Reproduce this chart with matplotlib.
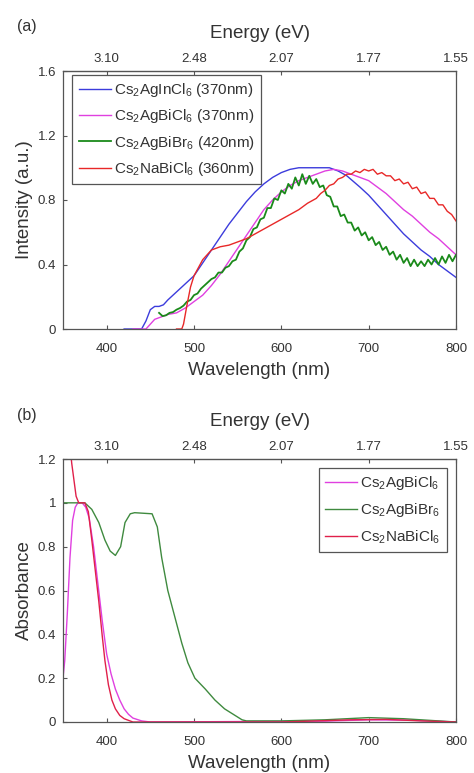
import matplotlib
matplotlib.use('Agg')
import matplotlib.pyplot as plt
import numpy as np

plt.rcParams['font.family'] = ['Liberation Sans', 'DejaVu Sans']
plt.rcParams['mathtext.fontset'] = 'custom'
plt.rcParams['mathtext.rm'] = 'Liberation Sans'
plt.rcParams['mathtext.it'] = 'Liberation Sans'
plt.rcParams['mathtext.default'] = 'regular'

# ---------------- (a) photoluminescence ----------------
wl_ticks = [400, 500, 600, 700, 800]
energy_labels = ['3.10', '2.48', '2.07', '1.77', '1.55']

pl_labels = ['Cs$_2$AgInCl$_6$ (370nm)', 'Cs$_2$AgBiCl$_6$ (370nm)',
             'Cs$_2$AgBiBr$_6$ (420nm)', 'Cs$_2$NaBiCl$_6$ (360nm)']

agin_wl = [420, 440, 445, 450, 455, 460, 465, 470, 480, 490, 500, 510, 520, 530, 540,
           550, 560, 570, 580, 590, 600, 610, 620, 640, 655, 665, 675, 690, 700, 710,
           720, 730, 740, 750, 760, 770, 780, 790, 800]
agin_pl = [0, 0, 0.05, 0.12, 0.14, 0.14, 0.15, 0.18, 0.23, 0.28, 0.33, 0.41, 0.49, 0.57, 0.65,
           0.72, 0.79, 0.85, 0.90, 0.94, 0.97, 0.99, 1.0, 1.0, 1.0, 0.98, 0.95, 0.88, 0.83, 0.77,
           0.71, 0.65, 0.59, 0.54, 0.49, 0.45, 0.40, 0.36, 0.32]

agbicl_wl = [430, 445, 450, 455, 460, 465, 470, 480, 490, 500, 510, 520, 530, 540, 550,
             560, 570, 580, 590, 600, 610, 620, 630, 640, 650, 660, 670, 680, 690, 700,
             710, 720, 730, 740, 750, 760, 770, 780, 790, 800]
agbicl_pl = [0, 0, 0.03, 0.06, 0.07, 0.08, 0.09, 0.10, 0.13, 0.17, 0.21, 0.27, 0.34, 0.42, 0.50,
             0.58, 0.66, 0.74, 0.80, 0.85, 0.89, 0.92, 0.94, 0.96, 0.98, 0.99, 0.98, 0.96, 0.94, 0.92,
             0.88, 0.84, 0.79, 0.74, 0.70, 0.65, 0.60, 0.56, 0.51, 0.46]

agbibr_wl = [460, 464, 468, 472, 476, 480, 484, 488, 492, 496, 500, 504, 508, 512, 516, 520,
             524, 528, 532, 536, 540, 544, 548, 552, 556, 560, 564, 568, 572, 576, 580, 584,
             588, 592, 596, 600, 604, 608, 612, 616, 620, 624, 628, 632, 636, 640, 644, 648,
             652, 656, 660, 664, 668, 672, 676, 680, 684, 688, 692, 696, 700, 704, 708, 712,
             716, 720, 724, 728, 732, 736, 740, 744, 748, 752, 756, 760, 764, 768, 772, 776,
             780, 784, 788, 792, 796, 800]
agbibr_pl = [0.10, 0.08, 0.085, 0.10, 0.105, 0.12, 0.13, 0.145, 0.17, 0.18, 0.21, 0.22, 0.25, 0.27, 0.29, 0.31,
             0.32, 0.35, 0.35, 0.38, 0.39, 0.42, 0.43, 0.48, 0.50, 0.55, 0.57, 0.62, 0.63, 0.68, 0.69, 0.75,
             0.75, 0.81, 0.80, 0.86, 0.84, 0.90, 0.87, 0.94, 0.89, 0.96, 0.90, 0.95, 0.90, 0.93, 0.88, 0.89,
             0.83, 0.82, 0.76, 0.76, 0.70, 0.71, 0.66, 0.66, 0.61, 0.63, 0.58, 0.60, 0.55, 0.57, 0.52, 0.54,
             0.49, 0.51, 0.46, 0.48, 0.43, 0.46, 0.41, 0.44, 0.39, 0.43, 0.39, 0.42, 0.39, 0.43, 0.40, 0.44,
             0.40, 0.45, 0.41, 0.46, 0.42, 0.46]

nabicl_wl = [480, 486, 488, 492, 496, 500, 505, 510, 515, 520, 525, 530, 540, 550, 560, 570,
             580, 590, 600, 610, 620, 630, 640, 645, 650, 655, 660, 665, 670, 675, 680, 685,
             690, 695, 700, 705, 710, 715, 720, 725, 730, 735, 740, 745, 750, 755, 760, 765,
             770, 775, 780, 785, 790, 795, 800]
nabicl_pl = [0, 0, 0.03, 0.15, 0.26, 0.33, 0.38, 0.43, 0.46, 0.49, 0.50, 0.51, 0.52, 0.54, 0.56, 0.59,
             0.62, 0.65, 0.68, 0.71, 0.74, 0.78, 0.81, 0.84, 0.86, 0.89, 0.90, 0.93, 0.94, 0.96, 0.96, 0.98,
             0.97, 0.99, 0.98, 0.99, 0.96, 0.97, 0.95, 0.95, 0.92, 0.93, 0.90, 0.91, 0.87, 0.88, 0.84, 0.85,
             0.81, 0.81, 0.77, 0.77, 0.73, 0.71, 0.67]

# ---------------- (b) absorbance ----------------
abs_labels = ['Cs$_2$AgBiCl$_6$', 'Cs$_2$AgBiBr$_6$', 'Cs$_2$NaBiCl$_6$']

abs_agbicl_wl = [350, 352, 355, 358, 361, 364, 367, 372, 376, 380, 385, 390, 395, 400, 405,
                 410, 415, 420, 425, 430, 440, 450, 650, 700, 750, 800]
abs_agbicl = [0.20, 0.28, 0.50, 0.75, 0.92, 0.98, 1.0, 1.0, 0.98, 0.93, 0.80, 0.63, 0.46, 0.31, 0.22,
              0.15, 0.10, 0.06, 0.035, 0.018, 0.005, 0, 0.004, 0.01, 0.008, 0]

abs_agbibr_wl = [350, 375, 383, 391, 398, 404, 410, 416, 421, 427, 432, 452, 458, 463, 470,
                 478, 486, 493, 501, 513, 524, 535, 547, 555, 560, 600, 650, 700, 740, 780, 800]
abs_agbibr = [1.0, 1.0, 0.97, 0.91, 0.83, 0.78, 0.76, 0.80, 0.91, 0.95, 0.955, 0.95, 0.89, 0.75, 0.60,
              0.48, 0.36, 0.27, 0.20, 0.15, 0.10, 0.06, 0.03, 0.01, 0.005, 0.005, 0.01, 0.02, 0.015, 0.005, 0]

abs_nabicl_wl = [350, 355, 360, 365, 368, 375, 379, 383, 387, 391, 395, 398, 402, 406, 410,
                 415, 420, 430, 600, 680, 720, 760, 800]
abs_nabicl = [1.6, 1.38, 1.18, 1.03, 1.0, 1.0, 0.96, 0.83, 0.69, 0.55, 0.39, 0.28, 0.17, 0.10, 0.06,
              0.03, 0.015, 0, 0, 0.01, 0.012, 0.005, 0]

col_blue = '#3c3cdc'
col_mag = '#e040e0'
col_green = '#1a8a1a'
col_red = '#e82828'
frame = '#555555'
txt = '#333333'


def style_axes(ax, ylim, yticks, yticklabels, ylabel):
    ax.set_xlim(350, 800)
    ax.set_ylim(*ylim)
    ax.set_xticks(wl_ticks)
    ax.set_yticks(yticks)
    ax.set_yticklabels(yticklabels)
    ax.tick_params(direction='in', length=3, width=0.8, labelsize=9.5,
                   colors=frame, labelcolor=txt, pad=5)
    ax.tick_params(axis='x', pad=10)
    for s in ax.spines.values():
        s.set_color(frame)
        s.set_linewidth(0.9)
    ax.set_xlabel('Wavelength (nm)', fontsize=13.5, color=txt, labelpad=5)
    ax.set_ylabel(ylabel, fontsize=13.5, color=txt, labelpad=3)

    top = ax.secondary_xaxis('top')
    top.set_xticks(wl_ticks)
    top.set_xticklabels(energy_labels)
    top.tick_params(direction='in', length=3, width=0.8, labelsize=9.5,
                    colors=frame, labelcolor=txt, pad=4)
    top.set_xlabel('Energy (eV)', fontsize=13.5, color=txt, labelpad=11)


def style_legend(leg):
    leg.get_frame().set_linewidth(0.9)
    for t in leg.get_texts():
        t.set_color(txt)


fig = plt.figure(figsize=(4.74, 7.73), dpi=100)

ax1 = fig.add_axes([63 / 474, 1 - 329 / 773, 393 / 474, 258 / 773])
ax1.plot(agin_wl, agin_pl, color=col_blue, lw=1.0, label=pl_labels[0])
ax1.plot(agbicl_wl, agbicl_pl, color=col_mag, lw=1.0, label=pl_labels[1])
ax1.plot(agbibr_wl, agbibr_pl, color=col_green, lw=1.3, label=pl_labels[2])
ax1.plot(nabicl_wl, nabicl_pl, color=col_red, lw=1.0, label=pl_labels[3])
style_axes(ax1, (0, 1.6), [0, 0.4, 0.8, 1.2, 1.6], ['0', '0.4', '0.8', '1.2', '1.6'],
           'Intensity (a.u.)')
leg1 = ax1.legend(loc='upper left', bbox_to_anchor=(0.024, 0.985), fontsize=11,
                  handlelength=2.1, labelspacing=0.55, borderpad=0.4, handletextpad=0.2,
                  borderaxespad=0, fancybox=False, framealpha=1, edgecolor=frame)
style_legend(leg1)

ax2 = fig.add_axes([63 / 474, 1 - 722 / 773, 393 / 474, 263 / 773])
ax2.plot(abs_agbicl_wl, abs_agbicl, color=col_mag, lw=1.0, label=abs_labels[0])
ax2.plot(abs_agbibr_wl, abs_agbibr, color='#3f8a3f', lw=1.0, label=abs_labels[1])
ax2.plot(abs_nabicl_wl, abs_nabicl, color='#e0204a', lw=1.0, label=abs_labels[2])
style_axes(ax2, (0, 1.2), [0, 0.2, 0.4, 0.6, 0.8, 1.0, 1.2],
           ['0', '0.2', '0.4', '0.6', '0.8', '1', '1.2'], 'Absorbance')
leg2 = ax2.legend(loc='upper right', bbox_to_anchor=(0.976, 0.966), fontsize=11,
                  handlelength=2.1, labelspacing=0.6, borderpad=0.4, handletextpad=0.2,
                  borderaxespad=0, fancybox=False, framealpha=1, edgecolor=frame)
style_legend(leg2)

fig.text(17 / 474, 1 - 26 / 773, '(a)', fontsize=11.5, color=txt, va='center')
fig.text(17 / 474, 1 - 415 / 773, '(b)', fontsize=11.5, color=txt, va='center')

fig.savefig('out.png', dpi=100)
